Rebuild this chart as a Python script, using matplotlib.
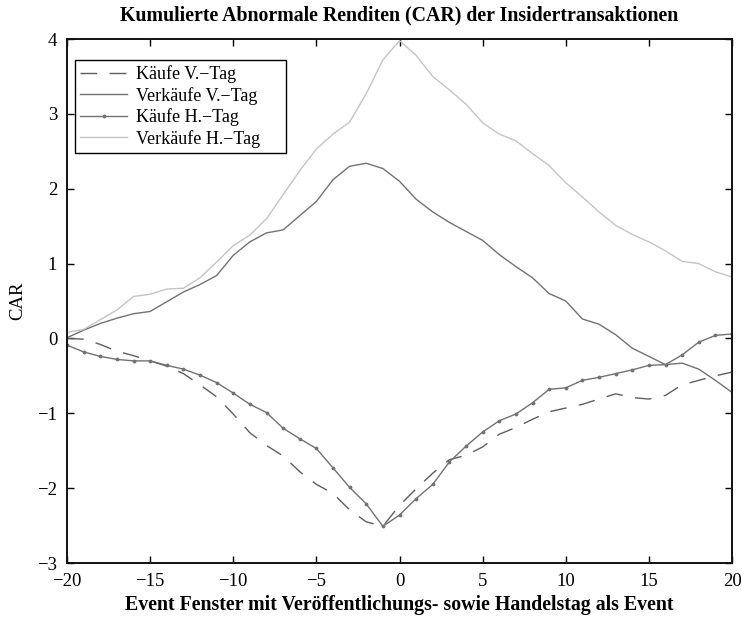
import numpy as np
import matplotlib
matplotlib.use("Agg")
import matplotlib.pyplot as plt

# ----------
# > Data <
# ----------
event_days = list(range(-20, 21))

kaeufe_v = [0.00, -0.01, -0.08, -0.17, -0.23, -0.30, -0.37, -0.47, -0.62, -0.78,
            -1.01, -1.26, -1.43, -1.57, -1.78, -1.95, -2.07, -2.29, -2.45, -2.51,
            -2.23, -2.01, -1.80, -1.62, -1.56, -1.45, -1.28, -1.19, -1.08, -0.98,
            -0.93, -0.88, -0.81, -0.74, -0.79, -0.81, -0.76, -0.62, -0.56, -0.50,
            -0.45]

verkaeufe_v = [0.01, 0.11, 0.20, 0.27, 0.33, 0.36, 0.49, 0.62, 0.72, 0.84,
               1.11, 1.29, 1.41, 1.45, 1.64, 1.83, 2.12, 2.30, 2.34, 2.27,
               2.10, 1.86, 1.69, 1.55, 1.43, 1.31, 1.12, 0.96, 0.81, 0.60,
               0.50, 0.26, 0.19, 0.05, -0.13, -0.24, -0.35, -0.33, -0.41, -0.56,
               -0.72]

kaeufe_h = [-0.09, -0.18, -0.24, -0.28, -0.30, -0.30, -0.36, -0.41, -0.49, -0.59,
            -0.73, -0.88, -0.99, -1.20, -1.34, -1.47, -1.73, -1.99, -2.21, -2.51,
            -2.36, -2.14, -1.95, -1.65, -1.44, -1.25, -1.10, -1.01, -0.86, -0.68,
            -0.66, -0.56, -0.52, -0.47, -0.42, -0.36, -0.35, -0.22, -0.05, 0.04,
            0.06]

verkaeufe_h = [0.08, 0.12, 0.25, 0.38, 0.56, 0.59, 0.66, 0.67, 0.81, 1.02,
               1.24, 1.38, 1.60, 1.92, 2.24, 2.53, 2.73, 2.89, 3.27, 3.72,
               3.98, 3.78, 3.50, 3.32, 3.13, 2.88, 2.73, 2.64, 2.47, 2.31,
               2.08, 1.89, 1.69, 1.51, 1.39, 1.29, 1.17, 1.03, 1.00, 0.89,
               0.82]

series_labels = ["K\u00e4ufe V.\u2212Tag", "Verk\u00e4ufe V.\u2212Tag",
                 "K\u00e4ufe H.\u2212Tag", "Verk\u00e4ufe H.\u2212Tag"]

x_ticks = [-20, -15, -10, -5, 0, 5, 10, 15, 20]
y_ticks = [-3, -2, -1, 0, 1, 2, 3, 4]

# --------------
# > Plotting <
# --------------
plt.rcParams["font.family"] = ["Liberation Serif", "DejaVu Serif"]
plt.rcParams["axes.unicode_minus"] = True

DASH_COLOR = "#5e5e5e"
MID_COLOR = "#727272"
LIGHT_COLOR = "#c4c4c4"

fig = plt.figure(figsize=(7.42, 6.22), dpi=100)
ax = fig.add_axes([67 / 742, 1 - 563 / 622, 665 / 742, 524 / 622])

ax.plot(event_days, kaeufe_v, color=DASH_COLOR, linewidth=1.0,
        linestyle=(0, (12, 9)), label=series_labels[0])
ax.plot(event_days, verkaeufe_v, color=MID_COLOR, linewidth=1.0,
        label=series_labels[1])
ax.plot(event_days, kaeufe_h, color=MID_COLOR, linewidth=1.0,
        marker=".", markersize=3.5, label=series_labels[2])
ax.plot(event_days, verkaeufe_h, color=LIGHT_COLOR, linewidth=1.0,
        label=series_labels[3])

ax.set_xlim(-20, 20)
ax.set_ylim(-3, 4)
ax.set_xticks(x_ticks)
ax.set_yticks(y_ticks)
ax.tick_params(direction="in", length=5, width=1.0, top=True, right=True,
               labelsize=13.5, colors="black")
ax.tick_params(axis="x", pad=7)
ax.tick_params(axis="y", pad=7)
for spine in ax.spines.values():
    spine.set_linewidth(1.4)
    spine.set_color("#111111")

ax.set_title("Kumulierte Abnormale Renditen (CAR) der Insidertransaktionen",
             fontsize=14.3, weight="bold", pad=13)
ax.set_xlabel("Event Fenster mit Ver\u00f6ffentlichungs- sowie Handelstag als Event",
              fontsize=14.3, weight="bold", labelpad=4)
ax.set_ylabel("CAR", fontsize=13.5, labelpad=8)

# legend box stretched to the reference width
leg = ax.legend(loc="upper left", bbox_to_anchor=(0.012, 0.0, 211 / 665, 0.960),
                mode="expand", borderaxespad=0, fontsize=13, handlelength=2.6,
                handletextpad=0.5, labelspacing=0.2, borderpad=0.3,
                fancybox=False, framealpha=1)
leg.get_frame().set_edgecolor("black")
leg.get_frame().set_linewidth(1.0)

fig.savefig("out.png", dpi=100)
plt.close(fig)
